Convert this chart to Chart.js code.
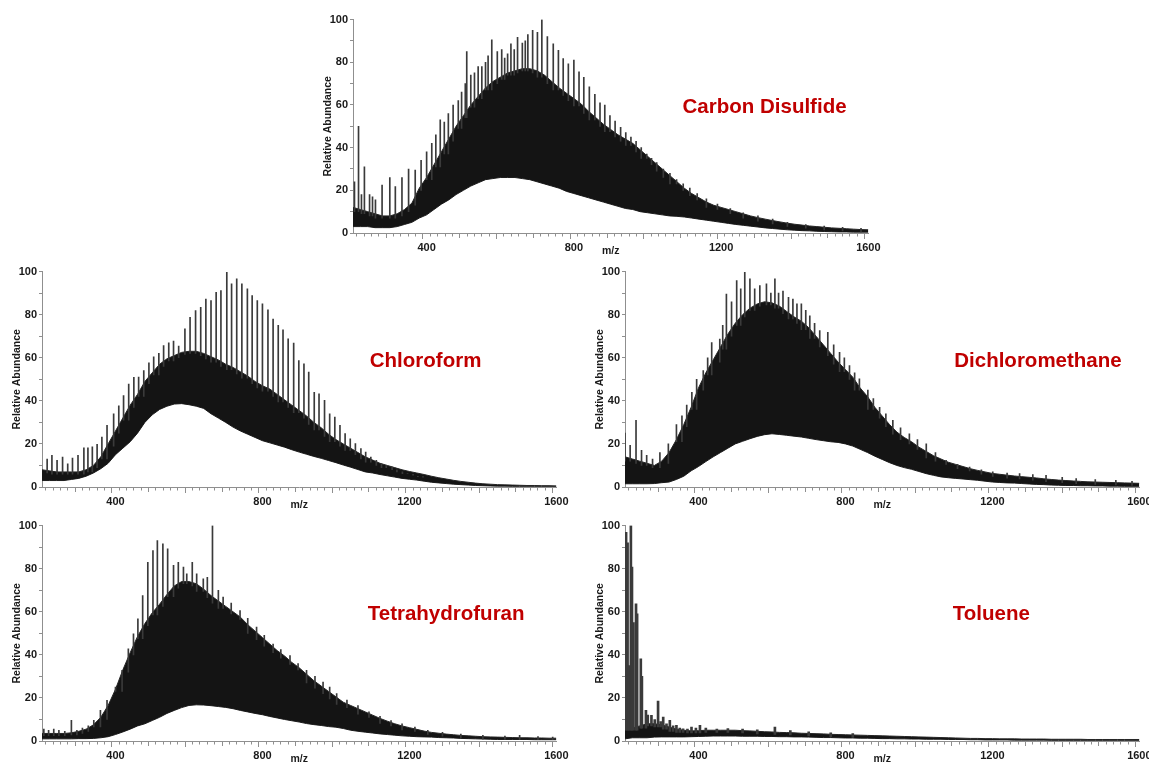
<!DOCTYPE html>
<html>
<head>
<meta charset="utf-8">
<script src="https://cdn.jsdelivr.net/npm/chart.js@4/dist/chart.umd.min.js"></script>
<style>
  html, body { margin: 0; padding: 0; background: #fff; overflow: hidden; width: 1149px; height: 763px; position: relative; }
  canvas { position: absolute; }
</style>
</head>
<body>
<script>
// m/z sampling grid for the envelope series
const MZ_GRID = [
  200, 220, 240, 260, 280, 300, 320, 340, 360, 380,
  400, 420, 440, 460, 480, 500, 520, 540, 560, 580,
  600, 620, 640, 660, 680, 700, 720, 740, 760, 780,
  800, 820, 840, 860, 880, 900, 920, 940, 960, 980,
  1000, 1020, 1040, 1060, 1080, 1100, 1120, 1140, 1160, 1180,
  1200, 1220, 1240, 1260, 1280, 1300, 1320, 1340, 1360, 1380,
  1400, 1420, 1440, 1460, 1480, 1500, 1520, 1540, 1560, 1580,
  1600
];
const X_TICK_LABELS = [400, 800, 1200, 1600];
const Y_TICK_LABELS = [0, 20, 40, 60, 80, 100];

// ---- Carbon Disulfide ----
const cs2Upper = [
  12, 11, 10, 9, 8, 8, 9, 11, 14, 21,
  26, 32, 38, 44, 50, 55, 60, 64, 68, 71,
  73, 75, 76, 77, 77, 76, 74, 71, 68, 65.5,
  63, 60.5, 57, 54, 51, 48.5, 46, 44, 42, 39,
  36, 33, 30, 27, 24, 21, 18.5, 16.5, 14.5, 13,
  12, 11, 10, 9, 8, 7.2, 6.5, 5.8, 5.2, 4.6,
  4.1, 3.7, 3.3, 3, 2.7, 2.4, 2.2, 2, 1.8, 1.6,
  1.5
];
const cs2Lower = [
  3, 3, 3, 2.5, 2.5, 2.5, 3, 4, 5, 7,
  8.5, 11, 13.5, 15.5, 18, 20, 22, 23.5, 25, 25.5,
  26, 26, 26, 25.5, 25, 24, 23, 22, 21, 19.5,
  18.5, 17.5, 16.5, 15.5, 14.5, 13.5, 12.5, 11.5, 11, 10,
  9.5, 9, 8.5, 8, 7.8, 7.5, 7, 6.5, 6, 5.5,
  5, 4.5, 4, 3.6, 3.2, 2.8, 2.4, 2.1, 1.8, 1.5,
  1.3, 1.1, 1, 0.8, 0.7, 0.6, 0.5, 0.5, 0.4, 0.4,
  0.4
];
const cs2PeakMz = [
  204, 215, 223, 231, 245, 253, 261, 279, 300, 315, 333, 351, 369, 385, 400, 414, 425, 437, 448, 459,
  472, 486, 495, 505, 509, 520, 530, 540, 550, 560, 567, 577, 592, 604, 612, 620, 629, 638, 647, 660,
  668, 675, 688, 701, 713, 728, 744, 758, 771, 785, 800, 814, 827, 842, 857, 871, 884, 898, 912, 927,
  941, 955, 969, 983, 998, 1011, 1025, 1043, 1061, 1079, 1097, 1115, 1135, 1160, 1190, 1225, 1260, 1300, 1340, 1380,
  1430, 1480, 1530, 1580
];
const cs2PeakTop = [
  24, 50, 18, 31, 18, 17, 15.5, 22.5, 26, 21.7, 26, 30, 29.5, 34, 38, 42, 46, 53, 52, 56,
  60, 62, 66, 70, 85, 74, 75, 78, 78, 80, 83, 90.5, 85, 86, 82, 84, 88.7, 86, 91.7, 89,
  90, 93, 95, 94, 100, 92, 88.7, 85.6, 81.7, 79.3, 81, 75.5, 73, 68.5, 65, 61, 60, 55, 52.5, 49.5,
  47, 45, 43, 40, 37, 35, 33, 30, 28, 25, 23, 21, 18.5, 16, 13.5, 11.5, 9.5, 8, 6.5, 5,
  4, 3.2, 2.6, 2.2
];

// ---- Chloroform ----
const chlUpper = [
  8, 7.5, 7, 7, 7, 7, 8, 10, 14, 20,
  26, 32, 38, 43, 49, 53, 57, 59.5, 61, 62.5,
  63, 63, 62, 60.5, 59, 57, 55.5, 53.5, 51.5, 49,
  47, 45.5, 43, 40.5, 38, 35.5, 33, 30, 27.5, 24.5,
  22, 20, 18, 16, 14, 12.5, 11, 10, 9, 8,
  7.2, 6.5, 5.8, 5, 4.3, 3.7, 3.1, 2.6, 2.2, 1.8,
  1.5, 1.3, 1.1, 1, 0.9, 0.8, 0.7, 0.7, 0.6, 0.6,
  0.5
];
const chlLower = [
  3, 3, 3, 3, 3.5, 4, 5, 6.5, 8.5, 11,
  15, 18, 21, 25, 30, 33.5, 36, 37.5, 38.5, 38.7,
  38.2, 37.5, 36.5, 34, 32, 30, 27.8, 26, 24.5, 23,
  21.5, 20.5, 19.5, 18.5, 17.3, 16.2, 15.2, 14.2, 13.3, 12.3,
  11.3, 10.2, 9.2, 8.1, 7, 6.5, 5.8, 5.2, 4.6, 4,
  3.6, 3.2, 2.7, 2.2, 1.9, 1.6, 1.3, 1.1, 0.9, 0.7,
  0.6, 0.5, 0.4, 0.4, 0.3, 0.3, 0.3, 0.3, 0.3, 0.3,
  0.3
];
const chlPeakMz = [
  214, 227, 241, 256, 270, 283, 298, 314, 325, 337, 350, 363, 377, 395, 409, 422, 436, 450, 463, 477,
  491, 504, 518, 531, 545, 558, 572, 589, 603, 618, 632, 646, 660, 674, 687, 703, 716, 730, 744, 759,
  772, 786, 800, 815, 829, 843, 856, 870, 885, 899, 913, 926, 941, 954, 969, 983, 997, 1011, 1025, 1039,
  1053, 1068, 1081, 1095, 1110, 1124, 1137, 1153, 1166, 1181, 1195, 1210, 1223, 1237
];
const chlPeakTop = [
  13, 14.7, 12.4, 13.9, 10.8, 13.4, 14.7, 18.2, 18.2, 18.6, 19.8, 23.2, 28.6, 34, 37.7, 42.4, 47.8, 50.9, 51, 54,
  57.6, 60.4, 62, 65.7, 66.9, 67.7, 65.4, 73.4, 78.8, 81.9, 83.4, 87.3, 86.6, 90.4, 91.2, 99.7, 94.3, 96.6, 94.3, 92,
  88.9, 86.6, 85, 82.2, 78, 75, 73, 68.8, 66.8, 58.7, 57.2, 53.3, 44, 43.3, 40.2, 34, 32.5, 28.6, 24.8, 22.4,
  20.1, 17.8, 16.2, 13.9, 12.4, 10.8, 10, 9.3, 8, 7, 6.2, 5.9, 5, 4.6
];

// ---- Dichloromethane ----
const dcmUpper = [
  14, 13, 12, 11, 10, 12, 16, 22, 29, 37,
  46, 53, 59, 65, 71, 76, 80, 83, 85, 86,
  85.5, 84, 81.5, 79, 77, 74, 70, 66, 62, 58,
  54.5, 51, 46, 42, 37, 33, 29, 25.5, 23, 21,
  18.5, 16.5, 14.5, 13, 11.5, 10.5, 9.5, 8.5, 7.7, 7,
  6.3, 5.9, 5.5, 5.1, 4.8, 4.5, 4.2, 3.8, 3.5, 3.2,
  3, 2.8, 2.6, 2.4, 2.3, 2.2, 2.1, 2, 1.9, 1.8,
  1.7
];
const dcmLower = [
  1.5, 1.5, 1.5, 1.5, 1.6, 2, 2.3, 3.5, 5, 7.5,
  9.5, 11.8, 14, 16, 18, 20, 21.2, 22.4, 23.5, 24.3,
  24.7, 24.4, 24, 23.6, 23.2, 22.6, 22, 21.5, 21, 20.7,
  20, 19, 17.5, 16, 14.3, 12.8, 11.3, 10, 9, 8.2,
  7.2, 6.2, 5.4, 4.7, 4.3, 4, 3.7, 3.4, 3.1, 2.7,
  2.3, 2.1, 1.9, 1.8, 1.6, 1.4, 1.2, 1.1, 0.9, 0.8,
  0.7, 0.7, 0.6, 0.6, 0.5, 0.5, 0.4, 0.4, 0.3, 0.3,
  0.3
];
const dcmPeakMz = [
  200, 214, 230, 245, 259, 275, 295, 318, 340, 355, 368, 382, 395, 413, 425, 436, 458, 466, 476, 490,
  504, 515, 526, 540, 553, 567, 585, 597, 608, 618, 630, 645, 657, 668, 680, 692, 703, 716, 730, 752,
  768, 784, 797, 811, 825, 838, 861, 876, 893, 910, 929, 950, 974, 996, 1020, 1045, 1074, 1105, 1138, 1170,
  1201, 1240, 1274, 1310, 1346, 1390, 1428, 1480, 1536, 1580
];
const dcmPeakTop = [
  25, 19.3, 31, 17, 14.7, 13, 16, 20, 29, 33, 38, 44, 50, 54, 60, 67, 68.7, 75, 89.6, 86,
  95.8, 92, 99.7, 96.6, 92, 93.5, 94.3, 90, 96.6, 90, 91, 88, 87.3, 85, 85, 82, 79.5, 76, 72.6, 71.8,
  66, 62.5, 60, 56.4, 53, 50.2, 45, 41, 37, 34, 30.9, 27.5, 24.7, 22, 20, 16, 12.4, 10.5, 9.3, 8,
  7, 6.5, 6.2, 5.8, 5.4, 4.5, 3.9, 3.5, 3.1, 2.6
];

// ---- Tetrahydrofuran ----
const thfUpper = [
  3.5, 3.5, 3.5, 3.5, 3.8, 4.5, 5.5, 7.5, 11, 16.5,
  24, 33, 41, 48.5, 54.5, 59.5, 63.5, 68, 72, 74,
  74, 73, 70.5, 67.5, 65, 62.5, 60, 57.5, 54, 51,
  48, 45, 42, 39.5, 36.5, 34, 31, 28, 25.5, 23,
  20.5, 18, 16.5, 15, 13.5, 12, 10.5, 9.2, 8, 7,
  6.2, 5.4, 4.6, 4, 3.6, 3.2, 2.9, 2.6, 2.4, 2.2,
  2, 1.9, 1.8, 1.7, 1.6, 1.5, 1.5, 1.4, 1.4, 1.3,
  1.3
];
const thfLower = [
  1, 1, 1, 1, 1, 1.1, 1.1, 1.2, 1.5, 2,
  3, 4.2, 5.5, 7, 8, 9.5, 11, 12.8, 14.2, 15.5,
  16.5, 16.8, 16.7, 16.4, 16, 15.6, 15, 14.2, 13.5, 12.8,
  12.2, 11.4, 10.7, 10, 9.4, 8.8, 8.1, 7.6, 7.2, 6.7,
  6.4, 5.8, 5, 4.5, 4.1, 3.7, 3.3, 3, 2.7, 2.4,
  2.2, 2, 1.9, 1.8, 1.6, 1.5, 1.4, 1.2, 1.1, 1,
  0.9, 0.8, 0.7, 0.7, 0.7, 0.7, 0.7, 0.6, 0.6, 0.6,
  0.6
];
const thfPeakMz = [
  205, 218, 232, 246, 262, 280, 295, 310, 326, 341, 359, 377, 400, 418, 435, 449, 461, 474, 488, 502,
  514, 529, 542, 558, 571, 585, 594, 609, 621, 639, 650, 664, 680, 693, 715, 739, 760, 784, 805, 829,
  850, 875, 897, 920, 943, 965, 983, 1002, 1030, 1060, 1090, 1120, 1150, 1180, 1215, 1250, 1290, 1340, 1400, 1460,
  1500, 1550, 1590
];
const thfPeakTop = [
  5.5, 5, 5.5, 5, 4.5, 9.6, 5, 6, 7, 9.6, 14.2, 18.9, 25, 32.8, 42.8, 49.8, 56.7, 67.5, 83, 88.4,
  93, 91.5, 89.2, 81.5, 83, 80.7, 77.6, 83, 77.6, 75.3, 76, 100, 70, 66.8, 64, 60.6, 57, 52.9, 49, 45,
  42.5, 39.7, 36, 32.8, 30, 27.4, 25, 22, 19, 16.5, 13.5, 11.5, 9.5, 8, 6.5, 5, 4, 3.2, 2.6, 2.3,
  2.6, 2, 1.8
];

// ---- Toluene ----
const tolUpper = [
  6, 6, 7, 8, 8, 7.5, 6.5, 5.5, 5, 4.7,
  4.8, 5, 5, 5, 5, 5, 4.8, 4.7, 4.5, 4.3,
  4.2, 4, 3.9, 3.8, 3.6, 3.5, 3.4, 3.3, 3.1, 3,
  2.9, 2.8, 2.7, 2.6, 2.5, 2.4, 2.3, 2.2, 2.1, 2,
  1.9, 1.8, 1.7, 1.6, 1.5, 1.4, 1.3, 1.2, 1.2, 1.1,
  1.1, 1, 1, 1, 0.9, 0.9, 0.9, 0.9, 0.8, 0.8,
  0.8, 0.8, 0.8, 0.7, 0.7, 0.7, 0.7, 0.7, 0.7, 0.7,
  0.7
];
const tolLower = [
  1, 1.5, 1.5, 1.5, 1.8, 1.9, 1.9, 1.9, 1.9, 2,
  2.1, 2.2, 2.3, 2.3, 2.3, 2.3, 2.2, 2.2, 2.2, 2.1,
  2.1, 2, 2, 1.9, 1.9, 1.8, 1.7, 1.6, 1.6, 1.5,
  1.4, 1.4, 1.3, 1.3, 1.2, 1.1, 1.1, 1, 1, 0.9,
  0.9, 0.8, 0.8, 0.8, 0.7, 0.7, 0.7, 0.6, 0.6, 0.5,
  0.5, 0.5, 0.5, 0.4, 0.4, 0.4, 0.4, 0.4, 0.3, 0.3,
  0.3, 0.3, 0.3, 0.3, 0.3, 0.3, 0.3, 0.3, 0.3, 0.3,
  0.3
];
const tolPeakMz = [
  203, 207, 211, 216, 219, 223, 230, 233, 243, 246, 257, 262, 272, 281, 290, 297, 304, 313, 322, 331,
  340, 349, 358, 370, 381, 393, 404, 420, 450, 480, 520, 560, 608, 650, 700, 760, 820
];
const tolPeakTop = [
  96.9, 92, 35, 100, 80.7, 55, 63.7, 59, 38.2, 30, 14.2, 12, 11.9, 10, 18.5, 9, 11.1, 8, 9.6, 7,
  7.3, 6, 5.7, 5.5, 6.5, 6, 7.3, 6, 5.5, 5.8, 5.5, 5.2, 6.5, 4.8, 4.3, 3.8, 3.5
];

// Panel layout: plot-area box in page pixels and where the solvent name sits (in data units)
const PANELS = [
  { name: 'Carbon Disulfide', upper: cs2Upper, lower: cs2Lower, peakMz: cs2PeakMz, peakTop: cs2PeakTop,
    box: { L: 353, T: 19, R: 869, B: 233 }, nameAt: { mz: 1318, val: 56 }, peakWidth: 1 },
  { name: 'Chloroform', upper: chlUpper, lower: chlLower, peakMz: chlPeakMz, peakTop: chlPeakTop,
    box: { L: 42, T: 271, R: 557, B: 487 }, nameAt: { mz: 1244, val: 55.6 }, peakWidth: 1 },
  { name: 'Dichloromethane', upper: dcmUpper, lower: dcmLower, peakMz: dcmPeakMz, peakTop: dcmPeakTop,
    box: { L: 625, T: 271, R: 1140, B: 487 }, nameAt: { mz: 1324, val: 55.6 }, peakWidth: 1 },
  { name: 'Tetrahydrofuran', upper: thfUpper, lower: thfLower, peakMz: thfPeakMz, peakTop: thfPeakTop,
    box: { L: 42, T: 525, R: 557, B: 741 }, nameAt: { mz: 1300, val: 56 }, peakWidth: 1 },
  { name: 'Toluene', upper: tolUpper, lower: tolLower, peakMz: tolPeakMz, peakTop: tolPeakTop,
    box: { L: 625, T: 525, R: 1140, B: 741 }, nameAt: { mz: 1197, val: 56 }, peakWidth: 2 }
];

const FONT = '"Liberation Sans", Arial, sans-serif';
const AXIS_GREY = '#8f8f8f';
const Y_AXIS_W = 60, X_AXIS_H = 30, PAD_TOP = 8, PAD_RIGHT = 14;

// Solvent name drawn inside the plot, positioned through the scales
const nameLabel = {
  id: 'nameLabel',
  afterDatasetsDraw(chart, args, opts) {
    const { ctx, scales: { x, y } } = chart;
    ctx.save();
    ctx.font = 'bold 20.5px ' + FONT;
    ctx.fillStyle = '#C00000';
    ctx.textAlign = 'center';
    ctx.textBaseline = 'alphabetic';
    ctx.fillText(opts.text, x.getPixelForValue(opts.mz), y.getPixelForValue(opts.val));
    ctx.restore();
  }
};

function gridIndex(mz) {
  let i = 0;
  while (i < MZ_GRID.length - 2 && MZ_GRID[i + 1] <= mz) i++;
  return i;
}

function buildPanel(p) {
  const { L, T, R, B } = p.box;
  const canvas = document.createElement('canvas');
  const w = R - L + Y_AXIS_W + PAD_RIGHT;
  const h = B - T + PAD_TOP + X_AXIS_H;
  canvas.width = w; canvas.height = h;
  canvas.style.width = w + 'px'; canvas.style.height = h + 'px';
  canvas.style.left = (L - Y_AXIS_W) + 'px';
  canvas.style.top = (T - PAD_TOP) + 'px';
  document.body.appendChild(canvas);

  const upperPts = MZ_GRID.map((m, i) => ({ x: m, y: p.upper[i] }));
  const lowerPts = MZ_GRID.map((m, i) => ({ x: m, y: p.lower[i] }));
  // each peak rises from inside the dense band up to its apex
  const peaks = p.peakMz.map((m, k) => {
    const i = gridIndex(m);
    const inside = Math.min(p.upper[i], p.upper[i + 1]) - 1;
    const floor = Math.max(p.lower[i], p.lower[i + 1]);
    return { x: m, y: [Math.max(inside, floor), p.peakTop[k]] };
  });

  new Chart(canvas, {
    type: 'line',
    data: {
      datasets: [
        { data: upperPts, borderColor: '#262626', borderWidth: 1, backgroundColor: '#141414',
          fill: '+1', pointRadius: 0, tension: 0, order: 2 },
        { data: lowerPts, borderColor: '#262626', borderWidth: 1, fill: false,
          pointRadius: 0, tension: 0, order: 2 },
        { type: 'bar', data: peaks, backgroundColor: '#3a3a3a', borderWidth: 0,
          barThickness: p.peakWidth, grouped: false, order: 1 }
      ]
    },
    options: {
      responsive: false,
      devicePixelRatio: 1,
      animation: false,
      events: [],
      layout: { padding: { left: 0, top: PAD_TOP, right: PAD_RIGHT, bottom: 0 } },
      plugins: {
        legend: { display: false },
        tooltip: { enabled: false },
        nameLabel: { text: p.name, mz: p.nameAt.mz, val: p.nameAt.val }
      },
      scales: {
        x: {
          type: 'linear',
          min: 200, max: 1600,
          offset: false,
          afterFit(scale) { scale.height = X_AXIS_H; },
          border: { display: true, color: AXIS_GREY, width: 1 },
          grid: {
            display: true, drawOnChartArea: false, drawTicks: true,
            tickLength: 6, tickColor: AXIS_GREY, tickWidth: 1,
            tickBorderDash: (ctx) => {
              const v = ctx.tick ? ctx.tick.value : 0;
              if (v % 200 === 0) return [];
              if (v % 100 === 0) return [4, 20];
              return [2.5, 20];
            }
          },
          ticks: {
            stepSize: 20, autoSkip: false, maxRotation: 0, minRotation: 0, padding: 2.4,
            color: '#1a1a1a', font: { family: FONT, size: 11, weight: 'bold' },
            callback: (v) => X_TICK_LABELS.includes(v) ? String(v) : ''
          },
          title: {
            display: true, text: 'm/z', color: '#1a1a1a',
            font: { family: FONT, size: 10.5, weight: 'bold' },
            padding: { top: 0, bottom: 5.7 }
          }
        },
        y: {
          type: 'linear',
          min: 0, max: 100,
          afterFit(scale) { scale.width = Y_AXIS_W; },
          border: { display: true, color: AXIS_GREY, width: 1 },
          grid: {
            display: true, drawOnChartArea: false, drawTicks: true,
            tickLength: 3, tickColor: AXIS_GREY, tickWidth: 1
          },
          ticks: {
            stepSize: 10, autoSkip: false, padding: 2,
            color: '#1a1a1a', font: { family: FONT, size: 11, weight: 'bold' },
            callback: (v) => Y_TICK_LABELS.includes(v) ? String(v) : ''
          },
          title: {
            display: true, text: 'Relative Abundance', color: '#1a1a1a',
            font: { family: FONT, size: 10.5, weight: 'bold' },
            padding: { top: 28.4, bottom: 0 }
          }
        }
      }
    },
    plugins: [nameLabel]
  });
}

PANELS.forEach(buildPanel);
</script>
</body>
</html>
